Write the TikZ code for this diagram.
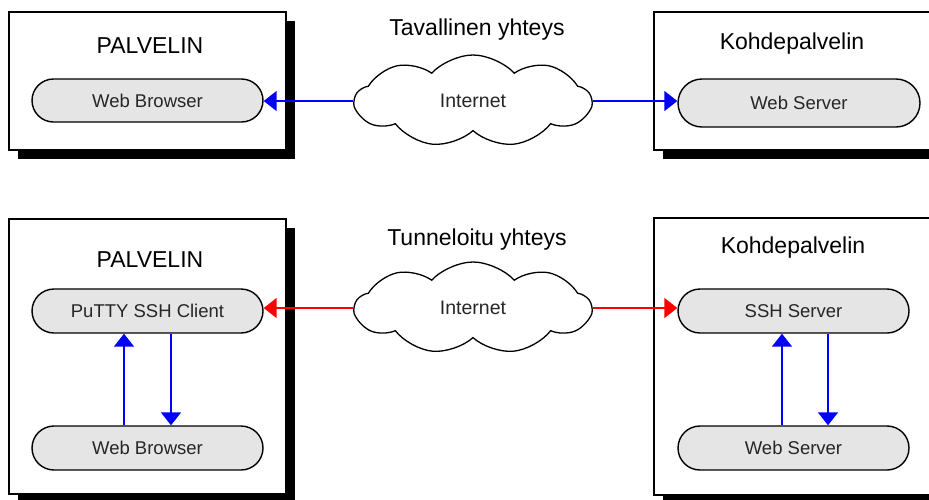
\documentclass[tikz,border=0pt]{standalone}
\usepackage{fontspec}
\setmainfont{Liberation Sans}
\usetikzlibrary{arrows.meta,shapes.symbols,shapes.misc,shadows}

\begin{document}
\begin{tikzpicture}[x=1pt,y=-1pt,
  host/.style={draw=black, line width=1.6pt, fill=white,
    drop shadow={shadow xshift=9pt, shadow yshift=-9pt, fill=black, opacity=1}},
  app/.style={rounded rectangle, draw=black, line width=1.4pt, fill=gray!20,
    text=black!85, inner sep=0pt, font=\fontsize{18.5}{21}\selectfont},
  title/.style={font=\fontsize{23}{26}\selectfont, text=black},
  net/.style={cloud, cloud puffs=9, cloud puff arc=95, cloud ignores aspect,
    draw=black, line width=1.3pt, fill=white, minimum width=236pt,
    minimum height=92pt, text=black!85, text depth=0pt,
    font=\fontsize{19.5}{22}\selectfont},
  link/.style={line width=1.8pt, -{Triangle[length=13pt,width=20pt]}}]

\useasboundingbox (0,0) rectangle (929,499);
\clip (0,0) rectangle (929,499);

% host boxes with black drop shadows
\node[host, minimum width=277pt, minimum height=138pt] (hostA) at (147.5,81) {};
\node[host, minimum width=321pt, minimum height=138pt] (hostB) at (814.5,81) {};
\node[host, minimum width=277pt, minimum height=275pt] (hostC) at (147.5,356.5) {};
\node[host, minimum width=321pt, minimum height=277pt] (hostD) at (814.5,356.5) {};

% host titles and connection labels
\node[title] (tA) at (150,46) {PALVELIN};
\node[title] (tB) at (792,44) {Kohdepalvelin};
\node[title] (tC) at (150,260) {PALVELIN};
\node[title] (tD) at (793,248) {Kohdepalvelin};
\node[title] (lab1) at (477,30) {Tavallinen yhteys};
\node[title] (lab2) at (477,240) {Tunneloitu yhteys};

% applications
\node[app, minimum width=231pt, minimum height=43pt] (wb1) at (147.5,100.5) {Web Browser};
\node[app, minimum width=242pt, minimum height=48pt] (ws1) at (799,103) {Web Server};
\node[app, minimum width=231pt, minimum height=44pt] (putty) at (147.5,311) {PuTTY SSH Client};
\node[app, minimum width=231pt, minimum height=44pt] (wb2) at (147.5,448) {Web Browser};
\node[app, minimum width=231pt, minimum height=44pt] (ssh) at (793.5,311) {SSH Server};
\node[app, minimum width=231pt, minimum height=44pt] (ws2) at (793.5,448) {Web Server};

% internet clouds
\node[net] (net1) at (473,101) {Internet};
\node[net] (net2) at (473,308) {Internet};

% plain connection
\draw[link, blue] (net1.west) -- (net1.west -| wb1.east);
\draw[link, blue] (net1.east) -- (net1.east -| ws1.west);

% tunnelled connection
\draw[link, red] (net2.west) -- (net2.west -| putty.east);
\draw[link, red] (net2.east) -- (net2.east -| ssh.west);

% local forwarding inside the hosts
\draw[link, blue] ([xshift=-23.5pt]wb2.north) -- ([xshift=-23.5pt]wb2.north |- putty.south);
\draw[link, blue] ([xshift=23.5pt]wb2.north |- putty.south) -- ([xshift=23.5pt]wb2.north);
\draw[link, blue] ([xshift=-11.5pt]ws2.north) -- ([xshift=-11.5pt]ws2.north |- ssh.south);
\draw[link, blue] ([xshift=34.5pt]ws2.north |- ssh.south) -- ([xshift=34.5pt]ws2.north);

\end{tikzpicture}
\end{document}
